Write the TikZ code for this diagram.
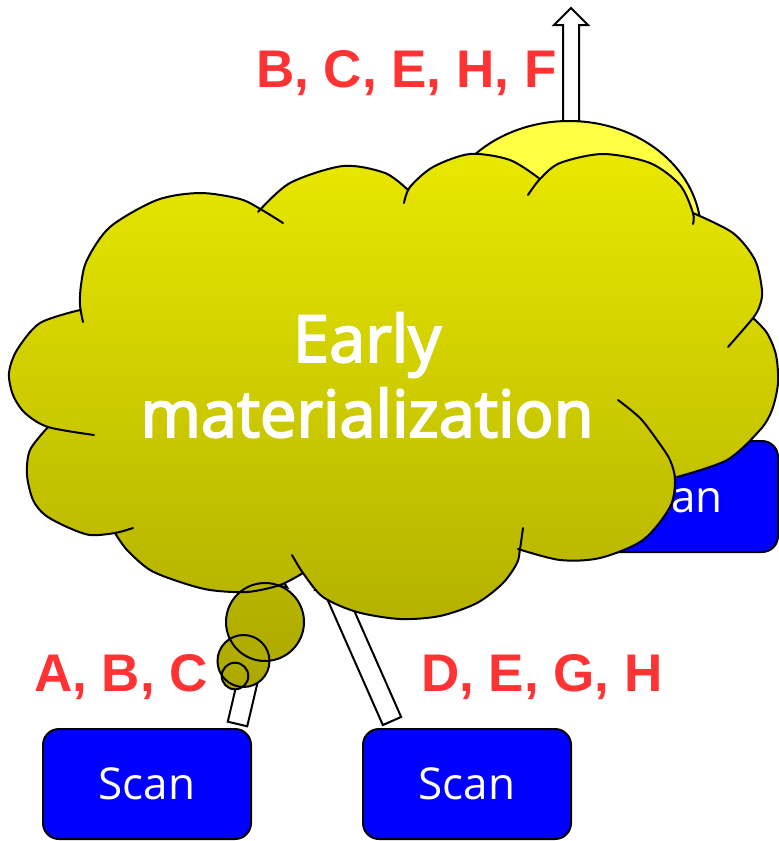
\documentclass[tikz,border=0pt]{standalone}
\usepackage{fontspec}
\setmainfont{Liberation Sans}
\newfontfamily\labelfont{Liberation Sans}
\newfontfamily\boxfont{Open Sans}
\newfontfamily\cloudfont[FakeBold=3]{Open Sans}
\usetikzlibrary{calc,shapes.geometric}

\definecolor{labelred}{RGB}{255,51,51}
\definecolor{scanblue}{RGB}{0,0,255}
\definecolor{joinyellow}{RGB}{255,255,68}
\definecolor{cloudtop}{RGB}{232,232,0}
\definecolor{cloudbottom}{RGB}{181,178,0}
\definecolor{bubAtop}{RGB}{184,180,0}
\definecolor{bubAbot}{RGB}{175,171,0}
\definecolor{bubBtop}{RGB}{178,174,0}
\definecolor{bubBbot}{RGB}{172,168,0}
\definecolor{bubCtop}{RGB}{175,171,0}
\definecolor{bubCbot}{RGB}{172,168,0}

% hollow block arrow from #1 to #2, shaft half width #3, head half width #4
\newcommand\bArrow[4]{%
  \coordinate (bA-head) at ($(#2)!17pt!(#1)$);
  \path[blockline] ($(#1)!#3!90:(#2)$) -- ($(bA-head)!#3!90:(#2)$)
    -- ($(bA-head)!#4!90:(#2)$) -- (#2) -- ($(bA-head)!#4!-90:(#2)$)
    -- ($(bA-head)!#3!-90:(#2)$) -- ($(#1)!#3!-90:(#2)$) -- cycle;}

% cloud lobes, each one running a little past its cusps
\def\lobeA{(83,322) (80,305) (81,285) (87,260) (110,227) (157,200) (200,193) (240,199) (262,210) (283,223)}
\def\lobeB{(258,212) (290,183) (343,166) (385,173) (408,190)}
\def\lobeC{(404,203) (410,187) (433,167) (470,154) (510,160) (540,179)}
\def\lobeD{(528,195) (540,179) (560,163) (603,154) (650,163) (680,185) (693,213) (693,224)}
\def\lobeE{(693,213) (733,233) (755,260) (762,290) (760,305) (753,318) (728,347)}
\def\lobeF{(753,318) (767,333) (776,355) (778,383) (772,410) (760,430) (727,460) (677,477)}
\def\lobeG{(618,400) (640,418) (657,440) (670,460) (675,480) (670,507) (643,540) (600,558) (560,560) (518,549)}
\def\lobeH{(523,528) (520,549) (517,563) (503,583) (477,603) (440,616) (400,619) (357,612) (323,597) (303,573) (292,555)}
\def\lobeI{(303,573) (280,585) (247,592) (210,590) (180,582) (150,570) (127,550) (115,533)}
\def\lobeJ{(133,528) (115,533) (90,535) (67,527) (45,515) (33,500) (27,475) (30,450) (48,427)}
\def\lobeK{(94,435) (48,427) (25,413) (13,395) (9,373) (17,350) (40,323) (80,310)}

\begin{document}
\begin{tikzpicture}[x=1pt,y=-1pt,
  scanbox/.style={draw=black, line width=2pt, fill=scanblue, rounded corners=16pt,
    minimum width=208pt, minimum height=110pt, inner sep=0pt, text=white,
    font=\boxfont\fontsize{44}{50}\selectfont},
  collabel/.style={text=labelred, font=\labelfont\bfseries\fontsize{53}{60}\selectfont,
    inner sep=0pt, anchor=base west},
  joinnode/.style={ellipse, draw=black, line width=2pt, fill=joinyellow,
    minimum width=264pt, minimum height=224pt, inner sep=0pt},
  blockline/.style={draw=black, fill=white, line width=2pt, line join=miter},
  cloudshade/.style={top color=cloudtop, bottom color=cloudbottom},
  cloudline/.style={draw=black, line width=2pt, line cap=round},
  cloudtext/.style={text=white, font=\cloudfont\fontsize{65}{75}\selectfont,
    inner sep=0pt, anchor=base}
]
\useasboundingbox (0,0) rectangle (779,841);
\fill[white] (0,0) rectangle (779,841);

% upper join with its output arrow
\coordinate (joinOut) at (571,233);
\coordinate (outTip) at (571,8);
\bArrow{joinOut}{outTip}{8pt}{17pt}
\node[joinnode] (join) at (569,233) {};

% scan feeding the upper join
\node[scanbox, minimum width=207pt, minimum height=111pt] (scanR) at (674.5,496.5) {Scan};

% the two lower scans and their arrows into the lower join
\coordinate (aLfrom) at (237.5,724);
\coordinate (aLto) at (274.5,567);
\coordinate (aRfrom) at (392,721);
\coordinate (aRto) at (324,567);
\bArrow{aLfrom}{aLto}{10pt}{17pt}
\bArrow{aRfrom}{aRto}{10pt}{17pt}
\node[scanbox] (scanL) at (147,784) {Scan};
\node[scanbox] (scanM) at (467,784) {Scan};

% cloud callout: fills first, outlines on top
\edef\cloudfill{\noexpand\shade[cloudshade]
  plot[smooth] coordinates {\lobeA} -- plot[smooth] coordinates {\lobeB}
  -- plot[smooth] coordinates {\lobeC} -- plot[smooth] coordinates {\lobeD}
  -- plot[smooth] coordinates {\lobeE} -- plot[smooth] coordinates {\lobeF}
  -- plot[smooth] coordinates {\lobeG} -- plot[smooth] coordinates {\lobeH}
  -- plot[smooth] coordinates {\lobeI} -- plot[smooth] coordinates {\lobeJ}
  -- plot[smooth] coordinates {\lobeK} -- cycle;}
\cloudfill
\shade[top color=bubAtop, bottom color=bubAbot] (265,622) circle[radius=39pt];
\shade[top color=bubBtop, bottom color=bubBbot] (243.5,661) circle[radius=26pt];
\shade[top color=bubCtop, bottom color=bubCbot] (235,676) circle[radius=13.3pt];

\edef\cloudlines{\noexpand\draw[cloudline]
  plot[smooth] coordinates {\lobeA} plot[smooth] coordinates {\lobeB}
  plot[smooth] coordinates {\lobeC} plot[smooth] coordinates {\lobeD}
  plot[smooth] coordinates {\lobeE} plot[smooth] coordinates {\lobeF}
  plot[smooth] coordinates {\lobeG} plot[smooth] coordinates {\lobeH}
  plot[smooth] coordinates {\lobeI} plot[smooth] coordinates {\lobeJ}
  plot[smooth] coordinates {\lobeK};}
\cloudlines
\draw[cloudline] (265,622) circle[radius=39pt];
\draw[cloudline] (243.5,661) circle[radius=26pt];
\draw[cloudline] (235,676) circle[radius=13.3pt];

\node[cloudtext] (early) at (367,362) {Early};
\node[cloudtext] (mat) at (367,437) {materialization};

% column labels
\node[collabel] (outcols) at (256,87) {B, C, E, H, F};
\node[collabel] (leftcols) at (34,691) {A, B, C};
\node[collabel] (midcols) at (421,691) {D, E, G, H};
\end{tikzpicture}
\end{document}
